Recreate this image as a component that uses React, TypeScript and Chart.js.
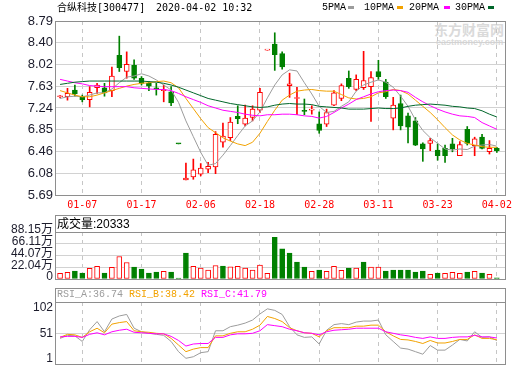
import React, { useEffect, useRef } from 'react';
import { Chart, registerables } from 'chart.js';

Chart.register(...registerables);

// ---------------- data ----------------
const DATES = ['01-02','01-03','01-06','01-07','01-08','01-09','01-10','01-13','01-14','01-15','01-16','01-17','01-20','01-21','01-22','01-23','02-03','02-04','02-05','02-06','02-07','02-10','02-11','02-12','02-13','02-14','02-17','02-18','02-19','02-20','02-21','02-24','02-25','02-26','02-27','02-28','03-02','03-03','03-04','03-05','03-06','03-09','03-10','03-11','03-12','03-13','03-16','03-17','03-18','03-19','03-20','03-23','03-24','03-25','03-26','03-27','03-30','03-31','04-01','04-02'];
const TICK_DATES = ['01-07','01-17','02-06','02-18','02-28','03-11','03-23','04-02'];

const OPEN = [7.44,7.44,7.56,7.45,7.39,7.60,7.60,7.55,8.18,7.89, 8.00,7.77,7.68,7.60,7.55,7.53,6.60,5.96,6.01,6.06, 6.15,6.19,6.63,6.71,7.09,6.95,7.07,7.20,8.27,8.38, 8.21,7.64,7.41,7.20,7.20,6.96,6.95,7.29,7.41,7.77, 7.57,7.60,7.62,7.89,7.70,7.06,7.32,7.10,7.01,6.60, 6.61,6.49,6.52,6.60,6.39,6.86,6.57,6.72,6.46,6.52];
const HIGH = [7.46,7.59,7.65,7.47,7.62,7.68,7.68,7.97,8.52,8.24, 8.10,7.80,7.71,7.68,7.65,7.62,6.60,6.26,6.33,6.25, 6.27,6.82,6.97,7.07,7.28,7.29,7.28,7.59,8.27,8.58, 8.24,7.86,7.61,7.40,7.28,7.17,7.22,7.55,7.67,7.90, 7.83,8.25,7.89,8.09,7.75,7.43,7.47,7.15,7.07,6.62, 6.70,6.60,6.58,6.70,6.64,6.91,6.72,6.77,6.66,6.54];
const LOW = [7.42,7.38,7.45,7.35,7.26,7.50,7.45,7.44,7.89,7.77, 7.75,7.65,7.55,7.47,7.35,7.28,6.60,5.96,5.97,6.03, 6.09,6.07,6.54,6.66,6.96,6.92,7.01,7.16,8.27,7.91, 7.93,7.43,7.12,7.12,7.13,6.79,6.91,7.28,7.37,7.59, 7.55,7.57,7.00,7.75,7.41,6.85,6.85,6.62,6.57,6.29, 6.48,6.31,6.27,6.46,6.39,6.58,6.39,6.51,6.42,6.45];
const CLOSE = [7.45,7.50,7.49,7.39,7.52,7.65,7.51,7.81,7.96,8.02, 7.77,7.68,7.63,7.58,7.57,7.33,6.60,5.99,6.14,6.17, 6.20,6.77,6.74,6.99,7.05,7.06,7.22,7.52,8.27,8.19, 7.97,7.67,7.42,7.18,7.22,6.84,7.16,7.51,7.64,7.62, 7.75,7.73,7.78,7.80,7.44,7.29,6.92,6.90,6.58,6.51, 6.66,6.39,6.39,6.51,6.59,6.61,6.69,6.52,6.52,6.48];

const MA5 = [7.41,7.44,7.45,7.44,7.47,7.51,7.51,7.58,7.69,7.79, 7.81,7.85,7.81,7.74,7.65,7.56,7.34,7.01,6.73,6.45, 6.22,6.25,6.40,6.57,6.75,6.92,7.01,7.17,7.42,7.65, 7.83,7.92,7.90,7.69,7.49,7.27,7.16,7.18,7.27,7.35, 7.54,7.65,7.70,7.74,7.70,7.61,7.45,7.27,7.03,6.84, 6.71,6.61,6.51,6.49,6.51,6.50,6.56,6.58,6.59,6.56];
const MA10 = [7.55,7.51,7.47,7.44,7.44,7.47,7.51,7.55,7.59,7.63, 7.66,7.68,7.69,7.71,7.72,7.69,7.60,7.41,7.23,7.05, 6.89,6.80,6.71,6.65,6.60,6.57,6.63,6.79,7.00,7.20, 7.38,7.47,7.54,7.56,7.57,7.55,7.54,7.54,7.48,7.42, 7.40,7.41,7.44,7.51,7.53,7.57,7.55,7.49,7.38,7.27, 7.16,7.03,6.89,6.76,6.67,6.61,6.58,6.55,6.54,6.54];
const MA20 = [7.75,7.72,7.69,7.67,7.64,7.63,7.62,7.62,7.62,7.62, 7.60,7.59,7.58,7.57,7.57,7.55,7.50,7.44,7.39,7.34, 7.28,7.24,7.20,7.18,7.16,7.13,7.11,7.10,7.12,7.12, 7.13,7.13,7.12,7.10,7.09,7.06,7.09,7.16,7.24,7.31, 7.39,7.44,7.49,7.53,7.55,7.56,7.55,7.52,7.43,7.35, 7.28,7.22,7.17,7.13,7.10,7.09,7.07,6.98,6.92,6.86];
const MA30 = [7.66,7.68,7.70,7.71,7.72,7.72,7.72,7.72,7.72,7.72, 7.72,7.72,7.71,7.70,7.68,7.65,7.61,7.56,7.51,7.46, 7.41,7.38,7.35,7.32,7.30,7.28,7.26,7.25,7.26,7.29, 7.31,7.32,7.31,7.31,7.30,7.27,7.26,7.25,7.24,7.22, 7.22,7.22,7.23,7.24,7.23,7.23,7.24,7.27,7.29,7.30, 7.31,7.30,7.29,7.27,7.26,7.24,7.23,7.19,7.13,7.08];
const PRICE_TICKS = [5.69, 6.08, 6.46, 6.85, 7.24, 7.63, 8.02, 8.40, 8.79];

// volume in 万 (10k shares); 1 = up day (red), 0 = down day (green)
const VOLUME = [10.6,12.4,14.9,11.2,19.8,23.6,11.2,21.7,42.2,31.0, 22.3,18.6,11.2,13.0,14.3,13.0,1.9,48.4,23.6,20.5, 16.7,25.4,24.2,22.9,23.6,20.5,16.7,26.0,10.6,78.1, 56.4,48.4,31.6,22.3,14.3,16.7,14.3,23.6,16.1,20.5, 20.5,31.6,22.3,22.3,14.9,16.7,16.7,16.7,13.0,14.9, 8.7,11.2,10.6,12.4,10.6,13.0,14.3,11.2,8.7,2.03];
const VOLUME_UP = [1,1,0,0,1,1,0,1,1,1, 0,0,0,0,1,0,0,0,1,1, 1,1,0,1,1,1,1,1,1,0, 0,0,0,0,1,0,1,1,1,0, 1,0,1,1,0,0,0,0,0,0, 1,0,1,1,1,0,1,0,1,0];
const VOLUME_TICKS = [0, 22.04, 44.07, 66.11, 88.15];

const RSI_A = [41,47,46,35,58,74,54,79,85,88, 61,54,51,49,47,35,15,2,5,13, 15,56,56,64,67,71,77,89,99,96, 88,64,48,43,44,30,57,68,70,68, 73,75,75,77,48,35,22,20,15,10, 27,18,18,28,39,36,54,43,44,36.74];
const RSI_B = [43,49,48,43,54,61,52,69,72,74, 56,54,53,51,50,41,28,15,20,23, 23,46,46,51,54,54,59,67,84,80, 74,62,56,52,51,44,56,62,62,62, 65,65,67,67,54,46,39,38,35,31, 37,32,32,35,39,39,48,41,41,38.42];
const RSI_C = [44,45,45,43,49,52,48,54,57,59, 53,52,51,50,50,45,37,26,30,31, 31,43,43,48,50,50,51,56,68,66, 64,59,56,52,51,48,54,57,58,59, 61,61,61,61,54,51,48,46,43,41, 44,41,41,43,44,44,47,44,44,41.79];
const RSI_TICKS = [1, 51, 102];

// ---------------- styles ----------------
const RED = '#ff0000';
const GREEN = '#008000';
const C_MA5 = '#9c9c9c';
const C_MA10 = '#f2a200';
const C_MA20 = '#ff00ff';
const C_MA30 = '#00662a';
const FRAME = '#8e8e8e';
const HGRID = '#d2d2d2';
const VGRID = '#c6c6c6';
const LABEL = '#1c1c2c';
const AXIS_FONT = 'Liberation Sans, "Noto Sans CJK SC"';

const X_MIN = -0.55;
const X_MAX = 60.1;
const TICK_IDX = TICK_DATES.map((d) => DATES.indexOf(d));

const isUp = (i: number) =>
  CLOSE[i] > OPEN[i] || (CLOSE[i] === OPEN[i] && i > 0 && CLOSE[i] >= CLOSE[i - 1]);

const framePlugin = {
  id: 'frame',
  beforeDatasetsDraw(chart: any, _args: any, opts: any) {
    const { ctx, chartArea: a } = chart;
    const head = (opts && opts.header) || 0;
    const L = a.left - 0.5;
    const R = a.right + 0.5;
    const T = a.top + 0.5 - head;
    const B = a.bottom + 0.5;
    ctx.save();
    ctx.strokeStyle = FRAME;
    ctx.lineWidth = 1;
    ctx.setLineDash([]);
    ctx.strokeRect(L, T, R - L, B - T);
    if (head) {
      ctx.beginPath();
      ctx.moveTo(L, a.top + 0.5);
      ctx.lineTo(R, a.top + 0.5);
      ctx.stroke();
    }
    ctx.restore();
  },
};

function xAxis(labels: boolean) {
  return {
    type: 'linear',
    min: X_MIN,
    max: X_MAX,
    offset: false,
    afterBuildTicks: (s: any) => {
      s.ticks = TICK_IDX.map((v) => ({ value: v }));
    },
    afterFit: (s: any) => {
      s.height = labels ? 20 : 0;
      s.paddingLeft = 0;
      s.paddingRight = 0;
    },
    grid: { color: VGRID, drawTicks: false, offset: false, lineWidth: 1 },
    border: { display: false, dash: [4, 4] },
    ticks: labels
      ? {
          display: true,
          padding: 4,
          color: RED,
          font: { family: '"DejaVu Sans Mono"', size: 10 },
          maxRotation: 0,
          autoSkip: false,
          callback: (v: number) => DATES[v] ?? '',
        }
      : { display: false },
  };
}

function yAxis(min: number, max: number, ticks: number[], fmt: (v: number) => string, size: number, grid: any, labelOffset: number) {
  return {
    type: 'linear',
    min,
    max,
    afterBuildTicks: (s: any) => {
      s.ticks = ticks.map((v) => ({ value: v }));
    },
    afterFit: (s: any) => {
      s.width = 56;
      s.paddingTop = 0;
      s.paddingBottom = 0;
    },
    grid: { color: grid, drawTicks: false, lineWidth: 1 },
    border: { display: false },
    ticks: {
      padding: 3,
      color: LABEL,
      labelOffset,
      autoSkip: false,
      font: { family: AXIS_FONT, size },
      callback: (v: number) => fmt(v),
    },
  };
}

const common = (header: number, padding: any) => ({
  responsive: false,
  animation: false,
  events: [],
  layout: { padding, autoPadding: false },
  plugins: {
    legend: { display: false },
    tooltip: { enabled: false },
    title: { display: false },
    frame: { header },
  },
});

const maLine = (data: number[], color: string) => ({
  type: 'line',
  data: data.map((y, i) => ({ x: i, y })),
  borderColor: color,
  borderWidth: 1,
  pointRadius: 0,
  tension: 0,
  fill: false,
  order: 0,
});

function priceConfig(): any {
  const idx = DATES.map((_, i) => i);
  return {
    type: 'bar',
    data: {
      datasets: [
        {
          type: 'bar',
          label: 'wick',
          data: idx.map((i) => ({ x: i, y: [LOW[i], HIGH[i]] })),
          backgroundColor: idx.map((i) => (isUp(i) ? RED : GREEN)),
          borderWidth: 0,
          barThickness: 1,
          grouped: false,
          order: 2,
        },
        {
          type: 'bar',
          label: 'body',
          data: idx.map((i) => ({ x: i, y: [OPEN[i], CLOSE[i]] })),
          backgroundColor: idx.map((i) => (isUp(i) ? '#ffffff' : GREEN)),
          borderColor: idx.map((i) => (isUp(i) ? RED : GREEN)),
          borderWidth: 1,
          borderSkipped: false,
          barThickness: 5,
          minBarLength: 1,
          grouped: false,
          order: 1,
        },
        maLine(MA30, C_MA30),
        maLine(MA20, C_MA20),
        maLine(MA10, C_MA10),
        maLine(MA5, C_MA5),
      ],
    },
    options: {
      ...common(0, { top: 21, right: 15, left: 0, bottom: 0 }),
      scales: {
        x: xAxis(true),
        y: yAxis(5.69, 8.79, PRICE_TICKS, (v) => v.toFixed(2), 13, HGRID, 0),
      },
    },
    plugins: [framePlugin],
  };
}

function volumeConfig(): any {
  const idx = DATES.map((_, i) => i);
  return {
    type: 'bar',
    data: {
      datasets: [
        {
          label: 'volume',
          data: idx.map((i) => ({ x: i, y: VOLUME[i] })),
          backgroundColor: idx.map((i) => (VOLUME_UP[i] ? '#ffffff' : GREEN)),
          borderColor: idx.map((i) => (VOLUME_UP[i] ? RED : GREEN)),
          borderWidth: 1,
          borderSkipped: false,
          barThickness: 5,
          grouped: false,
        },
      ],
    },
    options: {
      ...common(17, { top: 17, right: 15, left: 0, bottom: 1 }),
      scales: {
        x: xAxis(false),
        y: yAxis(0, 88.15, VOLUME_TICKS, (v) => (v === 0 ? '0' : v.toFixed(2) + '万'), 12, HGRID, -2),
      },
    },
    plugins: [framePlugin],
  };
}

function rsiConfig(): any {
  const line = (data: number[], color: string) => ({
    data: data.map((y, i) => ({ x: i, y })),
    borderColor: color,
    borderWidth: 1,
    pointRadius: 0,
    tension: 0,
    fill: false,
  });
  return {
    type: 'line',
    data: {
      datasets: [line(RSI_C, C_MA20), line(RSI_B, C_MA10), line(RSI_A, C_MA5)],
    },
    options: {
      ...common(14, { top: 15, right: 15, left: 0, bottom: 1 }),
      scales: {
        x: xAxis(false),
        y: yAxis(
          -9.2,
          112.4,
          RSI_TICKS,
          (v) => String(v),
          12,
          (ctx: any) => (ctx.tick && ctx.tick.value === 51 ? HGRID : 'rgba(0,0,0,0)'),
          0
        ),
      },
    },
    plugins: [framePlugin],
  };
}

function ChartCanvas({ top, height, make }: { top: number; height: number; make: () => any }) {
  const ref = useRef<HTMLCanvasElement>(null);
  useEffect(() => {
    if (!ref.current) return;
    const chart = new Chart(ref.current, make());
    return () => chart.destroy();
  }, []);
  return (
    <canvas
      ref={ref}
      width={520}
      height={height}
      style={{ position: 'absolute', left: 0, top, width: 520, height, display: 'block' }}
    />
  );
}

const mono = '"Liberation Mono", "Noto Sans CJK SC", monospace';

export default function App() {
  const legend = [
    { text: '5PMA', x: 322, sw: 348, color: C_MA5 },
    { text: '10PMA', x: 364, sw: 397, color: C_MA10 },
    { text: '20PMA', x: 409, sw: 444, color: C_MA20 },
    { text: '30PMA', x: 455, sw: 488, color: C_MA30 },
  ];
  return (
    <div
      style={{
        position: 'absolute',
        left: 0,
        top: 0,
        width: 520,
        height: 365,
        background: '#ffffff',
        overflow: 'hidden',
      }}
    >
      {/* watermark */}
      <div
        style={{
          position: 'absolute',
          left: 434,
          top: 21,
          font: 'bold 14px "Noto Sans CJK SC"',
          lineHeight: '17px',
          color: '#dadada',
          whiteSpace: 'nowrap',
        }}
      >
        东方财富网
      </div>
      <div
        style={{
          position: 'absolute',
          left: 436,
          top: 37,
          font: 'bold 9px "Liberation Sans"',
          lineHeight: '11px',
          color: '#dadada',
          whiteSpace: 'nowrap',
        }}
      >
        eastmoney.com
      </div>

      <ChartCanvas top={0} height={215} make={priceConfig} />
      <ChartCanvas top={215} height={65} make={volumeConfig} />
      <ChartCanvas top={287} height={78} make={rsiConfig} />

      {/* title */}
      <div
        style={{
          position: 'absolute',
          left: 57,
          top: 2,
          font: '10px "DejaVu Sans Mono", "Noto Sans CJK SC"',
          lineHeight: '12px',
          color: '#000',
          whiteSpace: 'pre',
        }}
      >
        合纵科技[300477]
      </div>
      <div
        style={{
          position: 'absolute',
          left: 156,
          top: 2,
          font: '10px "DejaVu Sans Mono"',
          lineHeight: '12px',
          color: '#000',
          whiteSpace: 'pre',
        }}
      >
        2020-04-02 10:32
      </div>

      {/* legend */}
      {legend.map((l) => (
        <React.Fragment key={l.text}>
          <div
            style={{
              position: 'absolute',
              left: l.x,
              top: 2,
              font: '10px ' + mono,
              lineHeight: '12px',
              color: '#000',
              whiteSpace: 'pre',
            }}
          >
            {l.text}
          </div>
          <div
            style={{
              position: 'absolute',
              left: l.sw,
              top: 6,
              width: 6,
              height: 3,
              background: l.color,
            }}
          />
        </React.Fragment>
      ))}

      {/* volume header */}
      <div
        style={{
          position: 'absolute',
          left: 57,
          top: 217,
          font: '12px "Liberation Sans", "Noto Sans CJK SC"',
          lineHeight: '14px',
          color: '#000',
          whiteSpace: 'pre',
        }}
      >
        成交量:20333
      </div>

      {/* RSI header */}
      <div
        style={{
          position: 'absolute',
          left: 57,
          top: 289,
          font: '10px ' + mono,
          lineHeight: '12px',
          whiteSpace: 'pre',
        }}
      >
        <span style={{ color: C_MA5 }}>RSI_A:36.74</span>{' '}
        <span style={{ color: C_MA10 }}>RSI_B:38.42</span>{' '}
        <span style={{ color: C_MA20 }}>RSI_C:41.79</span>
      </div>
    </div>
  );
}
